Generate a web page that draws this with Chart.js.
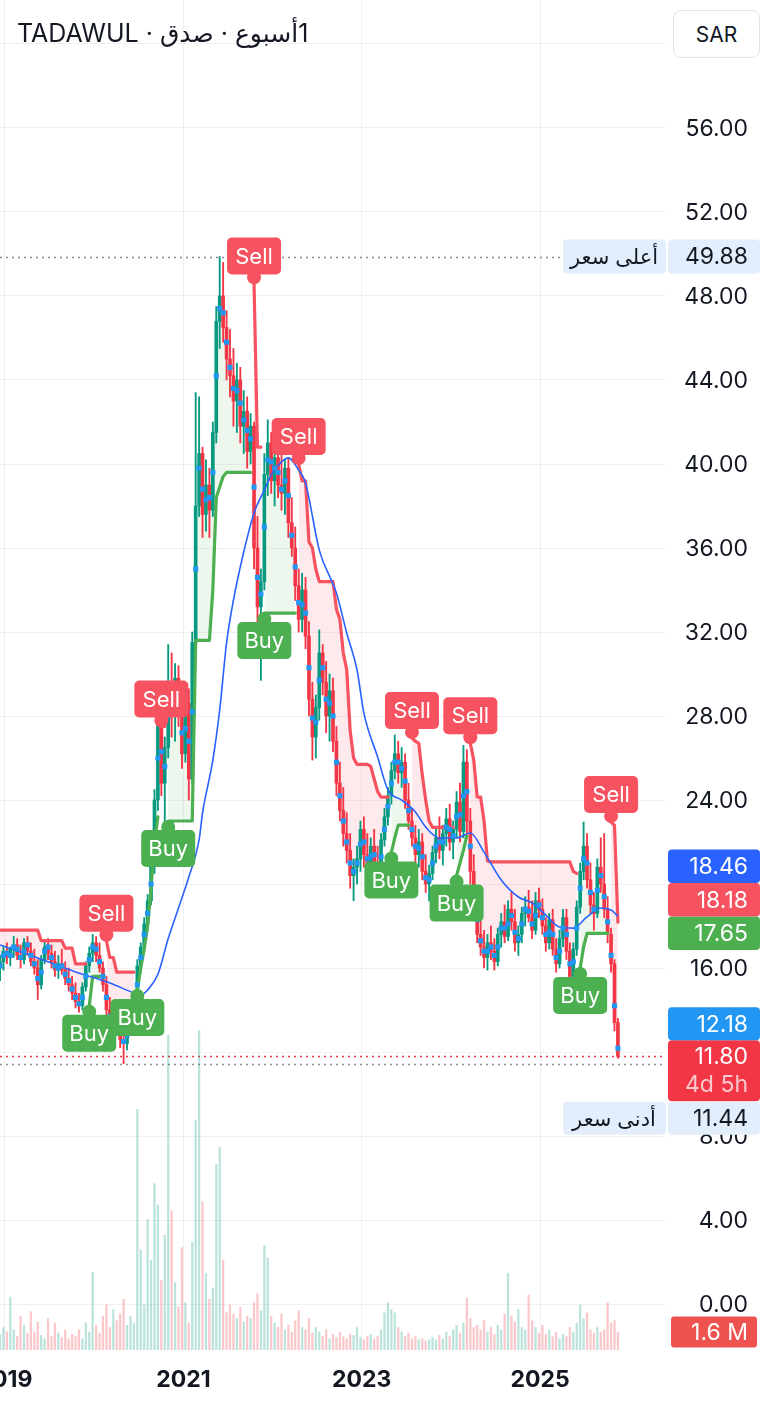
<!DOCTYPE html>
<html>
<head>
<meta charset="utf-8">
<title>TADAWUL · صدق · 1أسبوع</title>
<script src="https://cdn.jsdelivr.net/npm/chart.js@4.4.1/dist/chart.umd.min.js"></script>
<style>
html,body{margin:0;padding:0;background:#ffffff;}
#wrap{position:relative;width:768px;height:1406px;overflow:hidden;}
canvas{display:block;}
#hdr{position:absolute;left:17px;top:18px;font:25px Inter,'DejaVu Sans',sans-serif;color:#131722;white-space:nowrap;direction:ltr;}
#cur{position:absolute;left:673px;top:10px;width:85px;height:46px;border:1px solid #e0e3eb;border-radius:8px;background:#fff;font:21px Inter,'DejaVu Sans',sans-serif;color:#131722;display:flex;align-items:center;justify-content:center;}
</style>
</head>
<body>
<div id="wrap">
<canvas id="chart" width="768" height="1406"></canvas>
<div id="hdr">TADAWUL · <bdi>صدق</bdi> · <bdi>1أسبوع</bdi></div>
<div id="cur">SAR</div>
</div>
<script>
// ---------- data (bi-weekly bars) ----------
const firstBarYear = 2018.944;
const barStepYears = 0.03849;
const yearTicks = [2019, 2021, 2023, 2025];
const priceTicks = [0,4,8,12,16,20,24,28,32,36,40,44,48,52,56,60];

const open = [16.0,16.3,16.8,16.5,16.9,17.1,16.6,16.4,17.2,16.8, 16.3,16.0,15.2,16.4,17.0,16.7,16.3,15.9,16.2,15.9,
 15.5,15.2,14.8,14.4,14.2,15.1,16.1,16.7,17.2,16.6, 16.0,15.2,14.0,13.4,13.9,13.2,12.6,12.4,13.3,13.9,
 14.4,16.1,17.0,18.1,19.2,20.9,24.0,27.8,24.8,26.5, 29.5,28.0,29.8,28.2,26.2,28.6,25.0,31.5,38.0,40.5,
 37.6,39.0,37.8,41.5,46.8,48.0,46.5,45.0,44.2,43.0, 44.0,41.8,42.5,40.6,41.8,36.0,33.2,34.4,39.5,41.0,
 39.2,40.3,39.0,38.6,39.8,37.2,36.0,34.2,32.6,34.0, 31.8,28.8,27.0,28.4,31.0,29.6,28.0,29.2,26.8,24.8,
 23.5,22.4,21.6,20.4,20.8,21.2,22.6,21.4,20.9,21.8, 21.0,20.6,22.1,23.2,24.2,25.4,26.2,25.3,25.8,24.0,
 23.0,22.2,21.4,22.0,20.6,20.0,20.5,21.5,22.2,21.6, 22.4,23.1,22.0,22.6,23.9,22.5,25.8,23.0,20.6,19.0,
 17.6,17.0,16.5,17.2,16.8,16.3,17.6,18.2,17.5,18.8, 18.2,17.2,17.6,18.6,18.9,18.4,17.8,19.2,18.8,18.0,
 17.2,18.3,16.9,16.2,17.4,18.4,16.8,15.6,16.9,18.9, 20.6,21.8,20.2,19.0,18.6,20.8,20.0,18.8,17.6,16.2,
 13.4];
const high = [16.6,17.0,17.2,17.0,17.5,17.4,17.1,17.4,17.5,17.2, 16.9,16.4,16.6,17.3,17.4,17.1,16.8,16.6,16.9,16.3,
 16.0,15.6,15.3,14.8,15.3,16.3,17.0,17.6,17.5,17.2, 16.3,15.6,14.6,14.2,14.3,13.8,13.0,13.6,14.2,14.6,
 16.4,17.2,18.4,19.5,21.2,24.5,28.6,28.8,27.0,31.4, 31.0,30.5,30.4,29.6,29.0,29.3,32.0,43.4,43.2,40.8,
 40.2,39.8,42.0,47.5,49.88,49.6,47.3,46.4,45.5,44.8, 44.6,43.5,43.2,42.4,42.0,37.5,35.0,40.5,42.1,41.5,
 40.8,41.2,40.5,40.2,40.3,38.4,37.0,35.0,34.8,34.6, 32.5,29.6,29.0,32.1,31.4,30.6,30.0,29.8,27.5,25.8,
 24.6,23.4,22.4,21.2,21.8,23.0,23.2,22.4,22.2,22.6, 21.8,22.4,23.6,24.6,25.8,27.1,26.8,26.5,26.2,24.8,
 23.6,22.8,22.6,22.4,21.4,20.9,21.8,22.6,23.2,22.8, 23.6,23.8,23.0,24.4,24.8,26.6,26.4,23.6,21.4,19.8,
 18.4,17.8,17.6,18.0,17.4,17.9,18.6,19.0,19.2,19.6, 18.8,18.0,18.9,19.4,19.7,19.2,19.6,19.8,19.3,18.4,
 18.6,18.8,17.4,17.8,18.8,18.8,17.2,17.2,19.2,21.0, 22.95,22.4,21.0,19.6,21.2,22.2,22.4,19.4,17.9,16.4,
 13.6];
const low = [15.4,15.9,16.2,16.1,16.5,16.4,16.0,16.2,16.6,16.1, 15.7,14.5,15.0,16.2,16.4,16.0,15.6,15.5,15.7,15.2,
 14.9,14.5,14.1,13.9,14.0,14.9,15.8,16.3,16.3,15.8, 14.9,13.6,13.0,12.8,12.9,12.2,11.44,12.1,13.0,13.4,
 14.2,15.8,16.8,17.8,19.0,20.5,23.5,24.2,22.8,26.0, 27.0,26.8,27.5,25.5,25.8,24.0,24.8,31.0,37.5,36.5,
 36.8,36.5,37.5,41.0,45.5,45.8,44.0,43.2,41.8,41.5, 41.0,40.5,39.8,40.0,35.0,32.0,29.7,34.0,38.5,38.6,
 38.0,38.4,37.8,37.6,36.5,35.6,33.5,32.0,32.0,31.2, 28.0,25.9,26.0,27.8,29.0,27.2,26.8,26.3,24.2,23.0,
 21.8,21.0,19.8,19.2,20.0,20.6,20.8,20.4,19.7,20.6, 20.2,20.2,21.8,22.8,23.8,25.0,24.8,24.6,23.6,22.6,
 21.8,20.9,20.8,20.2,19.6,19.2,20.2,21.0,21.2,20.9, 21.8,21.6,21.2,22.2,22.0,22.2,22.4,20.0,18.5,17.2,
 16.6,16.0,15.9,16.4,15.9,16.1,17.0,17.2,17.3,17.8, 16.8,16.6,17.2,18.0,18.2,17.4,17.6,18.4,17.6,16.8,
 16.9,16.6,15.8,16.0,17.0,16.4,14.95,15.3,16.6,18.6, 20.2,19.8,18.6,17.8,18.4,19.6,18.4,17.2,15.8,13.0,
 11.7];
const close = [16.3,16.8,16.5,16.9,17.1,16.6,16.4,17.2,16.8,16.3, 16.0,15.2,16.4,17.0,16.7,16.3,15.9,16.2,15.9,15.5,
 15.2,14.8,14.4,14.2,15.1,16.1,16.7,17.2,16.6,16.0, 15.2,14.0,13.4,13.9,13.2,12.6,12.4,13.3,13.9,14.4,
 16.1,17.0,18.1,19.2,20.9,24.0,27.8,24.8,26.5,29.5, 28.0,29.8,28.2,26.2,28.6,25.0,31.5,38.0,40.5,37.6,
 39.0,37.8,41.5,46.8,48.0,46.5,45.0,44.2,43.0,44.0, 41.8,42.5,40.6,41.8,36.0,33.2,34.4,39.5,41.0,39.2,
 40.3,39.0,38.6,39.8,37.2,36.0,34.2,32.6,34.0,31.8, 28.8,27.0,28.4,31.0,29.6,28.0,29.2,26.8,24.8,23.5,
 22.4,21.6,20.4,20.8,21.2,22.6,21.4,20.9,21.8,21.0, 20.6,22.1,23.2,24.2,25.4,26.2,25.3,25.8,24.0,23.0,
 22.2,21.4,22.0,20.6,20.0,20.5,21.5,22.2,21.6,22.4, 23.1,22.0,22.6,23.9,22.5,25.8,23.0,20.6,19.0,17.6,
 17.0,16.5,17.2,16.8,16.3,17.6,18.2,17.5,18.8,18.2, 17.2,17.6,18.6,18.9,18.4,17.8,19.2,18.8,18.0,17.2,
 18.3,16.9,16.2,17.4,18.4,16.8,15.6,16.9,18.9,20.6, 21.8,20.2,19.0,18.6,20.8,20.0,18.8,17.6,16.2,13.4,
 11.8];
// blue square markers
const markers = [16.1,16.6,16.7,16.6,17.0,16.9,16.5,16.8,17.1,16.6, 16.2,15.5,15.8,16.8,17.0,16.5,16.1,16.0,16.1,15.7,
 15.4,15.0,14.6,14.3,14.6,15.6,16.4,17.0,16.9,16.3, 15.6,14.6,13.7,13.6,13.6,12.9,12.5,12.8,13.6,14.1,
 15.2,16.5,17.6,18.6,20.0,22.4,26.0,26.3,25.6,28.0, 28.8,28.9,29.0,27.2,27.4,26.8,28.2,35.0,39.8,38.8,
 38.3,38.4,39.6,44.2,47.4,47.2,45.8,44.6,43.6,43.5, 42.9,42.1,41.6,41.2,38.9,34.6,33.8,37.0,40.2,40.1,
 39.8,39.6,38.8,39.2,38.5,36.6,35.1,33.4,33.3,32.9, 30.3,27.9,27.7,29.7,30.3,28.8,28.6,28.0,25.8,24.2,
 23.0,22.0,21.0,20.6,21.0,21.9,22.0,21.2,21.3,21.4, 20.8,21.3,22.6,23.7,24.8,25.8,25.8,25.5,24.9,23.5,
 22.6,21.8,21.7,21.3,20.3,20.2,21.0,21.8,22.0,22.0, 22.7,22.6,22.3,23.2,23.3,24.2,24.4,21.8,19.8,18.3,
 17.3,16.8,16.8,17.0,16.6,17.0,17.9,17.9,18.1,18.5, 17.7,17.4,18.1,18.8,18.7,18.1,18.5,19.0,18.4,17.6,
 17.7,17.6,16.5,16.8,17.9,17.6,16.2,16.3,17.9,19.8, 21.2,21.0,19.6,18.8,19.7,20.4,19.4,18.2,16.6,14.2,
 12.18];
// volume, millions
const volume = [1.4,2.0,1.6,4.7,1.8,1.2,3.0,2.2,1.5,3.4, 1.6,2.5,1.3,1.0,2.8,1.2,2.4,1.5,1.1,1.8,
 1.0,1.4,1.2,1.8,1.0,2.4,1.6,6.9,2.2,1.5, 3.0,4.0,2.0,3.6,2.6,3.2,4.5,2.2,3.0,2.4,
 21.4,8.9,4.0,11.6,8.0,14.8,12.9,6.2,10.2,28.0, 12.4,6.0,3.8,9.1,4.2,2.4,9.6,20.4,28.4,13.2,
 6.8,4.5,5.5,16.5,18.0,8.0,3.3,4.0,3.2,2.8, 3.8,2.5,3.0,2.8,4.2,5.0,3.5,9.3,8.2,3.0,
 2.4,2.0,3.2,1.8,2.2,1.6,2.6,3.5,2.0,1.8, 2.8,1.5,2.0,1.6,1.2,1.8,1.0,1.4,1.1,1.6,
 1.2,1.0,1.4,1.3,2.0,1.1,0.9,1.2,1.4,1.0, 1.2,1.8,3.3,4.2,3.6,3.3,2.0,1.6,1.2,1.5,
 1.0,1.2,0.9,1.0,0.8,0.9,1.1,0.9,1.3,1.0, 1.6,1.2,1.8,2.2,1.5,2.4,4.6,2.8,2.0,2.2,
 1.8,2.6,1.6,2.0,1.4,2.2,1.8,3.2,6.8,3.0, 2.5,3.6,2.0,1.8,4.9,2.6,2.0,1.5,2.2,1.4,
 1.8,1.2,1.6,1.0,1.4,1.2,2.0,1.6,2.4,4.0, 2.8,3.3,1.8,1.5,2.0,1.6,1.8,4.2,2.4,2.6,
 1.6];
// SuperTrend line value for every bar
const supertrend = [17.8,17.8,17.8,17.8,17.8,17.8,17.8,17.8,17.8,17.8, 17.8,17.8,17.3,17.3,17.3,17.3,17.3,17.3,17.3,16.95,
 16.95,16.95,16.2,16.2,16.2,16.2,14.2,15.6,15.6,15.6, 15.6,17.3,16.5,16.5,15.8,15.8,15.8,15.8,15.8,15.8,
 14.95,16.0,16.9,18.0,19.8,22.0,23.2,27.5,27.5,23.0, 23.0,23.0,23.0,23.0,23.0,23.0,23.0,31.6,31.6,31.6,
 31.6,31.6,34.0,38.4,38.9,39.4,39.6,39.6,39.6,39.6, 39.6,39.6,39.6,39.6,48.6,40.8,40.8,32.9,32.9,32.9,
 32.9,32.9,32.9,32.9,32.9,32.9,32.9,40.0,39.2,39.2, 36.3,36.0,35.0,34.4,34.4,34.4,34.4,34.4,33.1,32.6,
 31.0,30.2,27.3,26.0,25.7,25.7,25.7,25.7,25.6,25.0, 24.4,24.14,24.14,24.14,21.5,22.2,22.8,22.8,22.8,22.8,
 26.95,26.8,26.7,25.2,24.0,23.0,22.7,22.7,22.7,22.7, 22.7,22.7,22.7,20.4,21.0,21.6,22.3,26.7,25.9,24.14,
 24.14,23.0,21.1,21.05,21.05,21.05,21.05,21.05,21.05,21.05, 21.05,21.05,21.05,21.05,21.05,21.05,21.05,21.05,21.05,21.05,
 21.05,21.05,21.05,21.05,21.05,21.05,21.05,20.6,20.5,16.0, 17.0,17.65,17.65,17.65,17.65,17.65,17.65,17.65,22.95,22.8,
 18.18];
const buySignals = [26, 40, 49, 77, 114, 133, 169];
const sellSignals = [31, 47, 74, 87, 120, 137, 178];
// moving average (bar index, value)
const maIndex = [0,11,22,32,39,41,43,46,49,52,55,58,59,62,64,66,68,71,74,77,79,82,84,87,89,93,98,101,104,106,110,113,117,121,124,128,133,137,141,146,151,155,159,163,167,171,175,178,180];
const maValue = [17.1,16.48,15.81,15.29,14.81,14.71,14.95,15.7,17.4,18.86,20.33,22.1,23.38,25.9,28.29,31.48,33.52,35.81,37.67,38.76,39.48,40.1,40.29,39.71,39.1,35.9,33.86,31.95,30.19,28.14,26.05,24.48,24.0,23.43,22.71,22.19,22.19,22.43,21.52,20.19,19.38,19.1,18.52,17.95,17.9,18.43,18.86,18.76,18.46];
const remainingTime = '4d 5h';
const highLabel = 'أعلى سعر';
const lowLabel = 'أدنى سعر';

// ---------- build ----------
const FONT = "Inter, 'DejaVu Sans', sans-serif";
const UP = '#089981', DN = '#f23645';
const N = close.length;
const dates = open.map((_, i) => firstBarYear + i * barStepYears);
const isUp = close.map((c, i) => c >= open[i]);
const bs = new Set(buySignals), ss = new Set(sellSignals);
let d = -1; const dir = [];
for (let i = 0; i < N; i++) { if (bs.has(i)) d = 1; if (ss.has(i)) d = -1; dir.push(d); }
const upLine = supertrend.map((v, i) => ({x: dates[i], y: dir[i] === 1 ? v : null}));
const dnLine = supertrend.map((v, i) => ({x: dates[i], y: dir[i] === -1 ? v : null}));
const highest = Math.max(...high), lowest = Math.min(...low);
const lastClose = close[N - 1], lastMarker = markers[N - 1], lastVol = volume[N - 1];
const lastMA = maValue[maValue.length - 1];
const lastRed = supertrend[N - 1];
let lastGreen = null; for (let i = N - 1; i >= 0; i--) { if (dir[i] === 1) { lastGreen = supertrend[i]; break; } }

function hline(ctx, x0, x1, y, color) {
  ctx.strokeStyle = color; ctx.beginPath(); ctx.moveTo(x0, y); ctx.lineTo(x1, y); ctx.stroke();
}
function drawSignal(ctx, x, y, buy) {
  const w = 54, h = 37, gap = 9;
  const col = buy ? '#4caf50' : '#f7525f';
  const top = buy ? y + gap : y - gap - h;
  ctx.fillStyle = col;
  ctx.beginPath(); ctx.arc(x, buy ? y + 6 : y - 6, 7, 0, Math.PI * 2); ctx.fill();
  ctx.beginPath(); ctx.roundRect(x - w / 2, top, w, h, 5); ctx.fill();
  ctx.fillStyle = '#ffffff'; ctx.font = '22px ' + FONT; ctx.textAlign = 'center'; ctx.textBaseline = 'middle';
  ctx.fillText(buy ? 'Buy' : 'Sell', x, top + h / 2 + 1);
}
function tag(ctx, yc, h, bg, text, fg) {
  ctx.fillStyle = bg; ctx.beginPath(); ctx.roundRect(668, yc - h / 2, 92, h, 4); ctx.fill();
  ctx.fillStyle = fg; ctx.font = '23px ' + FONT; ctx.textAlign = 'right'; ctx.textBaseline = 'middle';
  ctx.fillText(text, 748, yc + 1);
}
function sideTag(ctx, yc, h, text) {
  ctx.fillStyle = '#e3eefc'; ctx.beginPath(); ctx.roundRect(563, yc - h / 2, 103, h, 4); ctx.fill();
  ctx.fillStyle = '#131722'; ctx.font = '21px ' + FONT; ctx.textAlign = 'center'; ctx.textBaseline = 'middle';
  ctx.direction = 'rtl'; ctx.fillText(text, 614, yc + 1); ctx.direction = 'ltr';
}
function noPad(s) { s.paddingLeft = 0; s.paddingRight = 0; s.paddingTop = 0; s.paddingBottom = 0; }

const overlay = {
  id: 'overlay',
  beforeDatasetsDraw(chart) {
    const {ctx, chartArea: ca, scales: {y}} = chart;
    ctx.save(); ctx.lineWidth = 1.6; ctx.setLineDash([2, 4]);
    hline(ctx, 0, 563, Math.round(y.getPixelForValue(highest)) + 0.5, '#8a8d96');
    hline(ctx, 0, ca.right, Math.round(y.getPixelForValue(lowest)) + 0.5, '#8a8d96');
    hline(ctx, 0, ca.right, Math.round(y.getPixelForValue(lastClose)) + 0.5, '#f23645');
    ctx.restore();
  },
  afterDatasetsDraw(chart) {
    const {ctx, scales: {x, y}} = chart;
    ctx.save();
    buySignals.forEach(i => drawSignal(ctx, x.getPixelForValue(dates[i]), y.getPixelForValue(supertrend[i]), true));
    sellSignals.forEach(i => drawSignal(ctx, x.getPixelForValue(dates[i]), y.getPixelForValue(supertrend[i]), false));
    ctx.fillStyle = '#131722'; ctx.font = '23px ' + FONT; ctx.textAlign = 'right'; ctx.textBaseline = 'middle';
    priceTicks.forEach(v => ctx.fillText(v.toFixed(2), 748, y.getPixelForValue(v) + 1));
    ctx.restore();
  },
  afterDraw(chart) {
    const {ctx, scales: {y, yv}} = chart;
    ctx.save();
    const gY = y.getPixelForValue(lastGreen);
    const rY = Math.min(y.getPixelForValue(lastRed), gY - 33.5);
    const bY = Math.min(y.getPixelForValue(lastMA), rY - 33.5);
    tag(ctx, gY, 33.5, '#4caf50', lastGreen.toFixed(2), '#ffffff');
    tag(ctx, rY, 33.5, '#f7525f', lastRed.toFixed(2), '#ffffff');
    tag(ctx, bY, 33.5, '#2962ff', lastMA.toFixed(2), '#ffffff');
    const cY = y.getPixelForValue(lastClose);
    const cTop = cY - 16, cH = 61;
    ctx.fillStyle = '#f23645'; ctx.beginPath(); ctx.roundRect(668, cTop, 92, cH, 4); ctx.fill();
    ctx.fillStyle = '#ffffff'; ctx.font = '23px ' + FONT; ctx.textAlign = 'right'; ctx.textBaseline = 'middle';
    ctx.fillText(lastClose.toFixed(2), 748, cY + 1);
    ctx.fillStyle = 'rgba(255,255,255,0.72)';
    ctx.fillText(remainingTime, 748, cY + 29);
    const mY = Math.min(y.getPixelForValue(lastMarker), cTop - 16.5);
    tag(ctx, mY, 33, '#2196f3', lastMarker.toFixed(2), '#ffffff');
    const hY = y.getPixelForValue(highest);
    tag(ctx, hY, 34, '#e3eefc', highest.toFixed(2), '#131722');
    sideTag(ctx, hY, 34, highLabel);
    const lY = Math.max(y.getPixelForValue(lowest), cTop + cH + 17);
    tag(ctx, lY, 33, '#e3eefc', lowest.toFixed(2), '#131722');
    sideTag(ctx, lY, 33, lowLabel);
    const vY = yv.getPixelForValue(lastVol);
    ctx.fillStyle = '#ef5350'; ctx.beginPath(); ctx.roundRect(671, vY - 15.5, 86, 31, 3); ctx.fill();
    ctx.fillStyle = '#ffffff'; ctx.font = '23px ' + FONT; ctx.textAlign = 'right'; ctx.textBaseline = 'middle';
    ctx.fillText(lastVol.toFixed(1) + ' M', 748, vY + 1);
    ctx.restore();
  }
};

const GRID = 'rgba(0,0,0,0.06)';
Chart.defaults.font.family = FONT;

new Chart(document.getElementById('chart'), {
  type: 'bar',
  data: {
    datasets: [
      { type: 'bar', label: 'volume', yAxisID: 'yv', order: 10, grouped: false, barThickness: 1.6,
        data: volume.map((v, i) => ({x: dates[i], y: v})),
        backgroundColor: isUp.map(u => u ? 'rgba(8,153,129,0.28)' : 'rgba(242,54,69,0.28)'), borderWidth: 0 },
      { type: 'line', label: 'markers', order: 0, showLine: false,
        data: markers.map((v, i) => ({x: dates[i], y: v})),
        pointStyle: 'rect', pointRadius: 3.6, pointBackgroundColor: '#2196f3', pointBorderWidth: 0, borderWidth: 0, fill: false },
      { type: 'line', label: 'down', order: 2, data: dnLine, borderColor: '#f7525f', borderWidth: 3.2, pointRadius: 0, spanGaps: false,
        borderJoinStyle: 'round', borderCapStyle: 'round',
        fill: {target: 1, above: 'rgba(247,82,95,0.12)', below: 'rgba(247,82,95,0.12)'} },
      { type: 'line', label: 'up', order: 2, data: upLine, borderColor: '#4caf50', borderWidth: 3.2, pointRadius: 0, spanGaps: false,
        borderJoinStyle: 'round', borderCapStyle: 'round',
        fill: {target: 1, above: 'rgba(76,175,80,0.1)', below: 'rgba(76,175,80,0.1)'} },
      { type: 'bar', label: 'wicks', order: 6, grouped: false, barThickness: 1.2,
        data: high.map((h, i) => ({x: dates[i], y: [low[i], h]})),
        backgroundColor: isUp.map(u => u ? UP : DN), borderWidth: 0 },
      { type: 'bar', label: 'bodies', order: 5, grouped: false, barThickness: 3, minBarLength: 1,
        data: open.map((o, i) => ({x: dates[i], y: [o, close[i]]})),
        backgroundColor: isUp.map(u => u ? UP : DN), borderWidth: 0 },
      { type: 'line', label: 'ma', order: 1,
        data: maIndex.map((k, j) => ({x: dates[k], y: maValue[j]})),
        borderColor: '#2962ff', borderWidth: 1.6, pointRadius: 0, cubicInterpolationMode: 'monotone', fill: false }
    ]
  },
  options: {
    responsive: false, devicePixelRatio: 1, animation: false,
    layout: { padding: 0, autoPadding: false },
    plugins: { legend: { display: false }, tooltip: { enabled: false }, filler: { drawTime: 'beforeDatasetsDraw' } },
    events: [],
    scales: {
      x: { type: 'linear', min: 2018.944, max: 2026.40, offset: false,
        afterBuildTicks: s => { s.ticks = yearTicks.map(v => ({value: v})); },
        afterFit: s => { s.height = 56; noPad(s); },
        grid: { color: GRID, drawTicks: false, offset: false }, border: { display: false },
        ticks: { autoSkip: false, maxRotation: 0, padding: 16, color: '#131722',
          font: { size: 23, weight: 'bold', family: FONT }, callback: v => String(v) } },
      y: { type: 'linear', position: 'right', min: -2.19, max: 62.095,
        afterBuildTicks: s => { s.ticks = priceTicks.map(v => ({value: v})); },
        afterFit: s => { s.width = 103; noPad(s); },
        grid: { color: GRID, drawTicks: false }, border: { display: false },
        ticks: { display: false } },
      yv: { type: 'linear', display: false, min: 0, max: 120, afterFit: noPad }
    }
  },
  plugins: [overlay]
});
</script>
</body>
</html>
